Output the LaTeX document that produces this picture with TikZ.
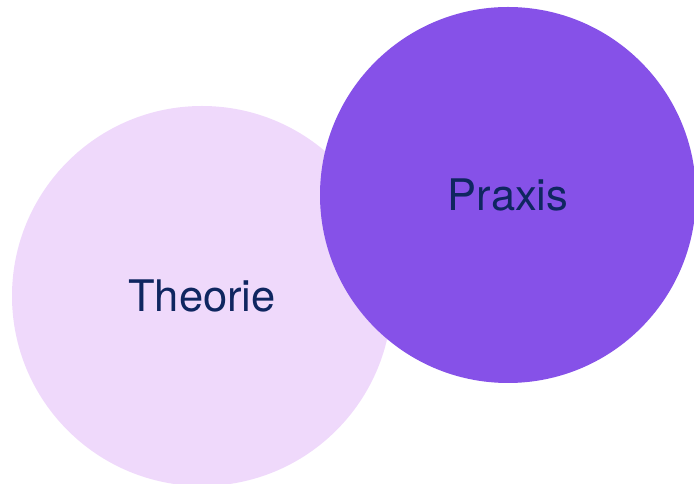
\documentclass[tikz,border=0pt]{standalone}
\usepackage{fontspec}
\setmainfont{TeX Gyre Heros}
\usepackage{xcolor}
\definecolor{lavender}{HTML}{EFD9FB}
\definecolor{violet}{HTML}{8651E8}
\definecolor{navy}{HTML}{0F2660}

\begin{document}
\begin{tikzpicture}[x=1pt,y=1pt]
    \useasboundingbox (0,0) rectangle (694,484);
    \clip (0,0) rectangle (694,484);
    \fill[lavender] (202,188) circle (190);
    \fill[violet] (508,289) circle (188);
    \node[text=navy, font=\fontsize{43.5}{50}\selectfont] (theorie) at (202,188) {Theorie};
    \node[text=navy, font=\fontsize{43.5}{50}\selectfont] (praxis) at (508,289) {Praxis};
\end{tikzpicture}
\end{document}
